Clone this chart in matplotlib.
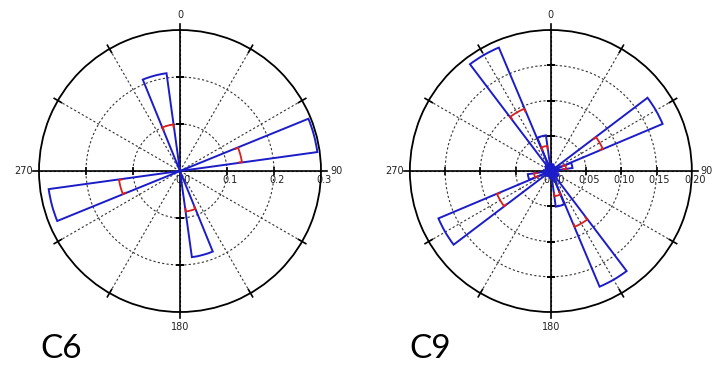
import numpy as np
import matplotlib.pyplot as plt

# bin centres (deg, clockwise from north), 15 deg bins
bin_deg = np.arange(0, 360, 15)
bar_width = 14.3

# C6 rose
c6_vals = [0, 0, 0, 0, 0, 0.295, 0, 0, 0, 0, 0, 0.185,
           0, 0, 0, 0, 0, 0.282, 0, 0, 0, 0, 0, 0.21]
c6_red = {75: 0.133, 165: 0.087, 255: 0.131, 345: 0.10}
c6_rings = [0.1, 0.2]
c6_labels = ['0.0', '0.1', '0.2', '0.3']
c6_rmax = 0.3

# C9 rose
c9_vals = [0.008, 0.010, 0.006, 0.008, 0.172, 0.031, 0.010, 0.007,
           0.012, 0.009, 0.178, 0.051, 0.010, 0.008, 0.006, 0.009,
           0.173, 0.033, 0.010, 0.007, 0.008, 0.010, 0.190, 0.051]
c9_red = {60: 0.080, 150: 0.086, 240: 0.083, 330: 0.096,
          345: 0.036, 165: 0.036, 75: 0.022, 255: 0.024}
c9_rings = [0.05, 0.10, 0.15]
c9_labels = ['0.00', '0.05', '0.10', '0.15', '0.20']
c9_rmax = 0.20

dir_labels = ['0', '90', '180', '270']

blue = '#1c1cc8'
red = '#d42020'


def rose(ax, vals, red_marks, rings, rlabels, rmax, edge_90=False):
    ax.set_theta_zero_location('N')
    ax.set_theta_direction(-1)
    ax.set_ylim(0, rmax)
    th = np.deg2rad(bin_deg)
    w = np.deg2rad(bar_width)
    ax.bar(th, vals, width=w, bottom=0, fill=False, edgecolor=blue,
           linewidth=1.4, zorder=4)
    # red markers: arc across the petal with small inward ticks
    for deg, rr in red_marks.items():
        a = np.deg2rad(np.linspace(deg - bar_width * 0.47, deg + bar_width * 0.47, 20))
        ax.plot(a, np.full_like(a, rr), color=red, lw=1.3, zorder=5)
        tk = rmax * 0.02
        for e in (a[0], a[-1]):
            ax.plot([e, e], [rr, rr - tk], color=red, lw=1.3, zorder=5)

    # grid
    ax.set_rgrids(rings, labels=[''] * len(rings))
    labs = [''] * 12
    for i, lab in enumerate(dir_labels):
        labs[i * 3] = lab
    if edge_90:
        # right panel: the 90 sits at the figure edge, placed by hand
        labs[3] = ''
        ax.text(np.pi / 2, rmax * 1.103, dir_labels[1], ha='center', va='center',
                fontsize=7, color='#222222', clip_on=False)
    ax.set_thetagrids(range(0, 360, 30), labels=labs)
    ax.grid(True, color='#333333', linestyle=(0, (2, 2)), linewidth=0.8)
    ax.tick_params(axis='x', labelsize=7, pad=0.5, colors='#222222')
    ax.spines['polar'].set_linewidth(1.3)

    # cross lines
    for d in (0, 90):
        t = np.deg2rad(d)
        ax.plot([t, t], [0, rmax * 1.045], color='black', lw=1.2, clip_on=False, zorder=3)
        ax.plot([t + np.pi, t + np.pi], [0, rmax * 1.045], color='black', lw=1.2,
                clip_on=False, zorder=3)
    # ticks on the cross lines at each ring
    for d in (0, 180):
        ax.plot(np.full(len(rings), np.deg2rad(d)), rings, ls='none', marker='_',
                ms=6, mew=1.2, color='black', zorder=3)
    for d in (90, 270):
        ax.plot(np.full(len(rings), np.deg2rad(d)), rings, ls='none', marker='|',
                ms=6, mew=1.2, color='black', zorder=3)
    # ticks on outer circle
    for d in range(30, 360, 30):
        if d % 90 == 0:
            continue
        t = np.deg2rad(d)
        ax.plot([t, t], [rmax * 0.97, rmax * 1.03], color='black', lw=1.2,
                clip_on=False, zorder=3)

    # radial labels along east axis
    rvals = np.linspace(0, rmax, len(rlabels))
    for rv, lab in zip(rvals, rlabels):
        ax.annotate(lab, (np.pi / 2, rv), xytext=(2, -3), textcoords='offset points',
                    ha='center', va='top', fontsize=7, color='#222222',
                    annotation_clip=False, zorder=2)


fig = plt.figure(figsize=(7.14, 3.66), dpi=100)
ax1 = fig.add_axes([0.0546, 0.1475, 0.395, 0.7705], projection='polar')
ax2 = fig.add_axes([0.574, 0.1475, 0.395, 0.7705], projection='polar')

rose(ax1, c6_vals, c6_red, c6_rings, c6_labels, c6_rmax)
rose(ax2, c9_vals, c9_red, c9_rings, c9_labels, c9_rmax, edge_90=True)

fig.text(0.056, 0.022, 'C6', fontsize=24, family='Lato', va='baseline')
fig.text(0.574, 0.022, 'C9', fontsize=24, family='Lato', va='baseline')

plt.savefig('out.png', dpi=100)
